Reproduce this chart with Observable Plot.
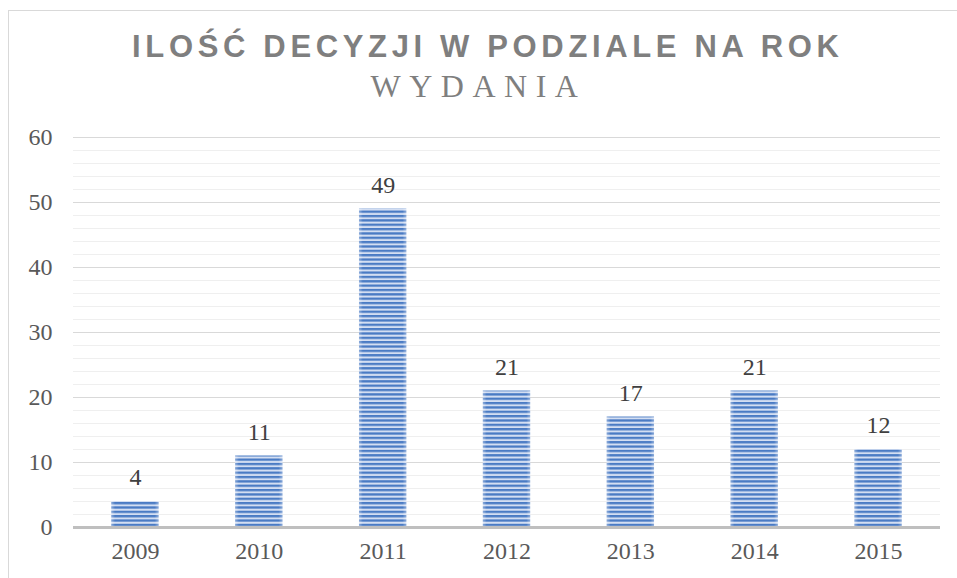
<!DOCTYPE html>
<html>
<head>
<meta charset="utf-8">
<script src="https://cdn.jsdelivr.net/npm/d3@7"></script>
<script src="https://cdn.jsdelivr.net/npm/@observablehq/plot@0.6"></script>
<style>
  html, body { margin: 0; padding: 0; background: #fff; }
  #wrap { position: relative; width: 957px; height: 578px; overflow: hidden; }
  #frame { position: absolute; left: 8px; top: 10px; width: 1000px; height: 1000px; border-left: 1px solid #d9d9d9; border-top: 1px solid #d9d9d9; box-sizing: border-box; }
  #title { position: absolute; left: 0; width: 957px; top: 29px; padding-left: 18.6px; box-sizing: border-box; text-align: center; font-family: "Liberation Sans", Arial, sans-serif; font-weight: bold; font-size: 31px; letter-spacing: 4.65px; color: #7f7f7f; line-height: 36px; }
  #subtitle { position: absolute; left: 0; width: 957px; top: 68px; padding-left: 0; box-sizing: border-box; text-align: center; font-family: "Liberation Serif", "Times New Roman", serif; font-size: 32px; letter-spacing: 8.5px; color: #7f7f7f; line-height: 36px; }
  #chart { position: absolute; left: 0; top: 110px; }
</style>
</head>
<body>
<div id="wrap">
  <div id="frame"></div>
  <div id="title">ILOŚĆ DECYZJI W PODZIALE NA ROK</div>
  <div id="subtitle">WYDANIA</div>
  <div id="chart"></div>
</div>
<script>
const years = ["2009", "2010", "2011", "2012", "2013", "2014", "2015"];
const counts = [4, 11, 49, 21, 17, 21, 12];
const yTicks = [0, 10, 20, 30, 40, 50, 60];
const minorTicks = [2, 4, 6, 8, 12, 14, 16, 18, 22, 24, 26, 28, 32, 34, 36, 38, 42, 44, 46, 48, 52, 54, 56, 58];

const data = years.map((y, i) => ({year: y, value: counts[i]}));

const serif = "'Liberation Serif', 'Times New Roman', serif";

const chart = Plot.plot({
  width: 957,
  height: 468,
  marginTop: 27,
  marginBottom: 51,
  marginLeft: 73,
  marginRight: 17,
  style: {fontFamily: serif, fontSize: "24px", color: "#595959", background: "transparent", overflow: "visible"},
  x: {domain: years, paddingInner: 0.618, paddingOuter: 0.309, round: false, label: null, tickSize: 0, tickPadding: 14},
  y: {domain: [0, 60], ticks: yTicks, label: null, tickSize: 0, tickPadding: 21},
  marks: [
    Plot.ruleY(minorTicks, {stroke: "#efefef", strokeWidth: 1}),
    Plot.ruleY(yTicks.filter(d => d > 0), {stroke: "#d9d9d9", strokeWidth: 1}),
    Plot.barY(data, {x: "year", y: "value", fill: "url(#stripes)"}),
    Plot.barY(data, {x: "year", y: "value", fill: "url(#edges)"}),
    Plot.ruleY([0], {stroke: "#bfbfbf", strokeWidth: 3}),
    Plot.axisX({tickSize: 0, tickPadding: 14, fontSize: 24, fill: "#595959"}),
    Plot.axisY({ticks: yTicks, tickSize: 0, tickPadding: 21, fontSize: 24, fill: "#595959"}),
    Plot.text(data, {x: "year", y: "value", text: d => String(d.value), dy: -24, fill: "#404040", fontSize: 24, fontFamily: serif})
  ]
});

const ns = "http://www.w3.org/2000/svg";
const defs = document.createElementNS(ns, "defs");
defs.innerHTML = `
  <pattern id="stripes" patternUnits="userSpaceOnUse" x="0" y="0.5" width="10" height="4.35">
    <rect x="0" y="0" width="10" height="4.35" fill="#d3def2"/>
    <rect x="0" y="0" width="10" height="2.3" fill="#4a7bc4"/>
  </pattern>
  <linearGradient id="edges" x1="0" x2="1" y1="0" y2="0">
    <stop offset="0" stop-color="#ffffff" stop-opacity="0.35"/>
    <stop offset="0.08" stop-color="#ffffff" stop-opacity="0"/>
    <stop offset="0.92" stop-color="#ffffff" stop-opacity="0"/>
    <stop offset="1" stop-color="#ffffff" stop-opacity="0.35"/>
  </linearGradient>`;
chart.insertBefore(defs, chart.firstChild);
document.getElementById("chart").appendChild(chart);
</script>
</body>
</html>
